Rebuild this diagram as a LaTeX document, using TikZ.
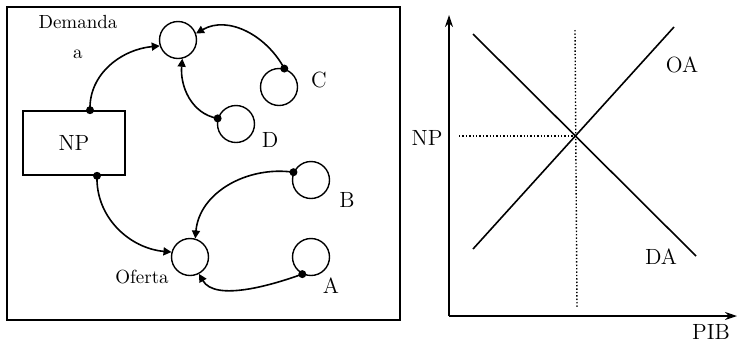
\documentclass[tikz,border=0pt]{standalone}
\usetikzlibrary{arrows.meta}
\begin{document}
\begin{tikzpicture}[x=0.5pt,y=0.5pt,
  ring/.style={circle,draw,line width=0.7pt,minimum size=18.5pt,inner sep=0pt},
  flow/.style={line width=0.8pt,-{Triangle[length=4pt,width=4pt]}},
  small/.style={font=\fontsize{9.5}{11}\selectfont},
  big/.style={font=\fontsize{11}{13}\selectfont}]
  \useasboundingbox (0,0) rectangle (738,345);
  % left panel
  \draw[line width=1pt] (7,25) rectangle (400,338);
  \node[draw,line width=0.8pt,minimum width=51pt,minimum height=32pt,big] (np) at (74,202) {NP};
  \node[ring] (dem) at (178,305) {};
  \node[ring] (c) at (279,258) {};
  \node[ring] (d) at (236,221) {};
  \node[ring] (b) at (311,165) {};
  \node[ring] (a) at (311,88) {};
  \node[ring] (of) at (190,88) {};
  \node[small,align=center] (demlbl) at (78,308) {Demanda\\[4pt]a};
  \node[small] (oflbl) at (142,68) {Oferta};
  \node[big] (clbl) at (319,265) {C};
  \node[big] (dlbl) at (270,205) {D};
  \node[big] (blbl) at (347,145) {B};
  \node[big] (albl) at (331,59) {A};
  \coordinate (npa) at ([xshift=8pt]np.north);
  \coordinate (npb) at ([xshift=11.5pt]np.south);
  \fill (npa) circle (2pt) (npb) circle (2pt)
    (c.74) circle (2pt) (d.163) circle (2pt)
    (b.156) circle (2pt) (a.243) circle (2pt);
  \draw[flow] (npa) to[out=92,in=185] (dem.198);
  \draw[flow] (npb) to[out=268,in=175] (of.165);
  \draw[flow] (c.74) to[out=118,in=30] (dem.20);
  \draw[flow] (d.163) to[out=170,in=265] (dem.283);
  \draw[flow] (b.156) to[out=172,in=85] (of.74);
  \draw[flow] (a.243) to[out=200,in=300,looseness=0.8] (of.298);
  % right panel
  \coordinate (o) at (449,29);
  \coordinate (ytop) at (449,330);
  \coordinate (xend) at (737,29);
  \draw[line width=0.8pt,-{Stealth[length=6pt,width=4pt]}] (o) -- (ytop);
  \draw[line width=0.8pt,-{Stealth[length=6pt,width=4pt]}] (o) -- (xend);
  \coordinate (da1) at (473,311);
  \coordinate (da2) at (696,89);
  \coordinate (oa1) at (473,96);
  \coordinate (oa2) at (674,318);
  \draw[line width=0.8pt] (da1) -- (da2);
  \draw[line width=0.8pt] (oa1) -- (oa2);
  \coordinate (eq) at (575,209);
  \coordinate (vtop) at (575,315);
  \coordinate (vbot) at (577,37);
  \coordinate (hleft) at (459,209);
  \draw[densely dotted,line width=0.7pt] (vtop) -- (vbot);
  \draw[densely dotted,line width=0.7pt] (hleft) -- (eq);
  \node[big] (nplbl) at (427,207) {NP};
  \node[big] (oalbl) at (682,280) {OA};
  \node[big] (dalbl) at (661,88) {DA};
  \node[big] (piblbl) at (711,13) {PIB};
\end{tikzpicture}
\end{document}
